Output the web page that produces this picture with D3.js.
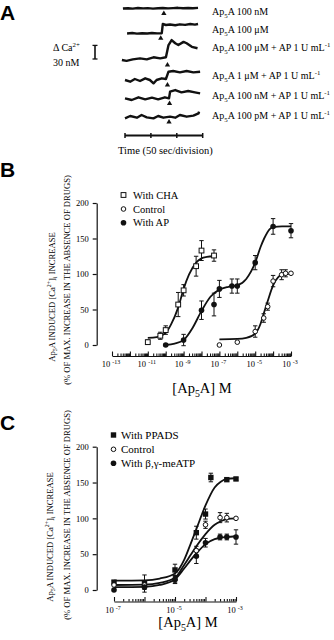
<!DOCTYPE html>
<html>
<head>
<meta charset="utf-8">
<script src="https://cdnjs.cloudflare.com/ajax/libs/d3/7.8.5/d3.min.js"></script>
<style>
body { margin: 0; background: #fff; }
svg { display: block; font-family: "Liberation Serif", "Times New Roman", serif; }
</style>
</head>
<body>
<svg class="fig"></svg>
<script>
// ---------- panel A : Ca traces, [time (s), delta Ca (nM)]
const trace1 = [[-4,0],[6,0.7],[15,-0.2],[25,1.1],[35,0.2],[44,0.9],[54,-0.2],[64,0.7],[73,1.1],[83,0.2],[93,0.9],[102,1.5],[112,0.4],[122,1.1],[131,0.7],[141,1.3]]
const trace2 = [[4,-0.4],[14,0.7],[23,-0.7],[33,0.2],[43,-0.4],[52,0.7],[62,-0.2],[71,0.2],[73,20.5],[79,18.3],[87,19.4],[97,17.8],[106,19.8],[116,18.7],[126,20.5],[135,19.1],[141,20.5]]
const trace3 = [[-6,0],[3,-2],[15,1.5],[29,3.5],[42,1.5],[55,6],[68,3.5],[79,6],[84,33],[90,44],[97,37],[103,33],[113,40],[119,37],[129,29],[140,26]]
const trace4 = [[0,0],[10,-3.7],[19,2.2],[29,-2.2],[39,3.7],[48,0],[55,-7.3],[61,0],[71,3.7],[79,2.2],[84,18.3],[93,19.8],[106,16.9],[119,19.8],[132,16.9],[145,18.3]]
const trace5 = [[0,0.4],[13,-3.3],[26,2.6],[39,-1.8],[52,1.8],[64,-1.8],[77,2.6],[85,0.4],[87,15],[97,18.7],[109,13.6],[122,16.5],[135,13.6],[145,11.4]]
const trace6 = [[0,-2.9],[10,2.2],[23,-1.5],[32,4.4],[42,-0.7],[55,-2.9],[64,2.2],[74,-1.5],[87,0.7],[97,-1.5],[106,4.4],[119,0.7],[132,2.9],[142,8.1],[143,11.7]]
const traces = [trace1, trace2, trace3, trace4, trace5, trace6]
const stimTimes = [75, 69, 82, 82, 86, 85]
const traceLabels = [
    ["Ap", ["5", "sub"], "A 100 nM"],
    ["Ap", ["5", "sub"], "A 100 \u03bcM"],
    ["Ap", ["5", "sub"], "A 100 \u03bcM + AP 1 U mL", ["-1", "sup"]],
    ["Ap", ["5", "sub"], "A 1 \u03bcM + AP 1 U mL", ["-1", "sup"]],
    ["Ap", ["5", "sub"], "A 100 nM + AP 1 U mL", ["-1", "sup"]],
    ["Ap", ["5", "sub"], "A 100 pM + AP 1 U mL", ["-1", "sup"]]
]
const timeTicks = [0, 50, 100, 150]
const scaleBarNM = 30

// ---------- panel B : concentration (M), mean, s.e.m.
const chaConc = [1e-11, 5e-11, 1e-10, 5e-10, 1e-9, 5e-9, 1e-8, 5e-8]
const chaMean = [4, 13, 21, 57, 77, 111, 133, 126]
const chaErr = [3, 5, 6, 17, 8, 14, 14, 8]
const apConc = [1e-10, 1e-9, 1e-8, 5e-8, 1e-7, 5e-7, 1e-6, 1e-5, 1e-4, 1e-3]
const apMean = [0, 7, 49, 57, 79, 83, 83, 116, 167, 161]
const apErr = [1, 8, 13, 16, 12, 10, 10, 10, 11, 10]
const ctrlBConc = [1e-7, 1e-6, 1e-5, 3e-5, 5e-5, 1e-4, 3e-4, 5e-4, 1e-3]
const ctrlBMean = [0, 4, 19, 38, 54, 90, 99, 101, 101]
const ctrlBErr = [0, 0, 8, 6, 5, 8, 7, 5, 0]
// fitted curves: [log10 conc, value]
const chaCurve = [[-11,10],[-10.5,11],[-10,17],[-9.7,29],[-9.3,53],[-9,79],[-8.7,99],[-8.3,116],[-8,122],[-7.7,124],[-7.3,125]]
const apCurve = [[-10,0],[-9.5,2],[-9,7],[-8.5,24],[-8,48],[-7.5,68],[-7,78],[-6.5,82],[-6,84],[-5.5,93],[-5,116],[-4.7,138],[-4.5,150],[-4.2,163],[-4,166],[-3.5,167],[-3,167]]
const ctrlBCurve = [[-7,8],[-6,8.5],[-5.5,10],[-5,16],[-4.7,30],[-4.5,46],[-4.3,62],[-4,84],[-3.7,96],[-3.5,99],[-3.3,100],[-3,101]]
const decadesB = [-13, -11, -9, -7, -5, -3]

// ---------- panel C
const ppadsConc = [1e-7, 1e-6, 1e-5, 5e-5, 1e-4, 1.5e-4, 5e-4, 1e-3]
const ppadsMean = [11, 9, 28, 80, 106, 157, 154, 155]
const ppadsErr = [2, 12, 8, 9, 7, 6, 2, 2]
const ctrlCConc = [1e-7, 1e-6, 1e-5, 5e-5, 1e-4, 3e-4, 5e-4, 1e-3]
const ctrlCMean = [7, 7, 14, 55, 91, 101, 101, 100]
const ctrlCErr = [0, 0, 5, 6, 5, 7, 6, 0]
const meatpConc = [1e-7, 1e-6, 1e-5, 5e-5, 1e-4, 3e-4, 5e-4, 1e-3]
const meatpMean = [0, 4, 15, 47, 66, 74, 74, 74]
const meatpErr = [0, 3, 5, 10, 6, 4, 4, 10]
const ppadsCurve = [[-7,13],[-6,13.5],[-5.5,16],[-5,23],[-4.7,42],[-4.5,63],[-4.3,85],[-4,118],[-3.7,143],[-3.5,151],[-3.3,155],[-3,156]]
const ctrlCCurve = [[-7,7],[-6,7.5],[-5.5,10],[-5,17],[-4.7,35],[-4.5,48],[-4.3,61],[-4,78],[-3.7,91],[-3.5,96],[-3.3,99],[-3,100]]
const meatpCurve = [[-7,4],[-6,4.5],[-5.5,7],[-5,15],[-4.7,30],[-4.5,41],[-4.3,51],[-4,64],[-3.7,71],[-3.5,73],[-3.3,74],[-3,75]]
const decadesC = [-7, -5, -3]
const yTicks = [0, 50, 100, 150, 200]

// ---------------------------------------------------------------
const svg = d3.select('.fig').attr('width', 334).attr('height', 640)
svg.append('rect').attr('width', 334).attr('height', 640).attr('fill', '#fff')

// text with sub/superscripts
function rich(t, parts, fs) {
    let shift = 0
    parts.forEach(p => {
        let txt = typeof p === 'string' ? p : p[0]
        let mode = typeof p === 'string' ? null : p[1]
        let target = mode === 'sub' ? fs * 0.3 : mode === 'sup' ? -fs * 0.4 : 0
        t.append('tspan')
            .attr('dy', target - shift)
            .style('font-size', (mode ? fs * 0.68 : fs) + 'px')
            .text(txt)
        shift = target
    })
    return t
}

function panelLetter(txt, y) {
    svg.append('text').attr('x', 0).attr('y', y)
        .style('font-family', '"Liberation Sans", Arial, sans-serif')
        .style('font-weight', 'bold').style('font-size', '21px')
        .text(txt)
}

// ---------- A
panelLetter('A', 19.5)
const rowBase = [8.5, 33.3, 60, 80, 98.5, 117]
const labelY = [14.5, 33, 50.5, 79, 98.5, 118.5]
const tScale = d3.scaleLinear().domain([0, 150]).range([125, 202.7])

traces.forEach((tr, i) => {
    let y = d3.scaleLinear().domain([0, scaleBarNM]).range([rowBase[i], rowBase[i] - 13.6])
    let line = d3.line().x(d => tScale(d[0])).y(d => y(d[1])).curve(d3.curveLinear)
    svg.append('path')
        .attr('d', line(tr))
        .attr('fill', 'none').attr('stroke', '#111').attr('stroke-width', 2.4)
        .attr('stroke-linejoin', 'round')
    svg.append('path')
        .attr('d', d3.symbol(d3.symbolTriangle).size(12)())
        .attr('transform', `translate(${tScale(stimTimes[i])},${rowBase[i] + 5})`)
        .attr('fill', '#111')
    let t = svg.append('text').attr('x', 212).attr('y', labelY[i])
    rich(t, traceLabels[i], 10)
})

// time axis
svg.append('line')
    .attr('x1', tScale(0)).attr('x2', tScale(150)).attr('y1', 135.5).attr('y2', 135.5)
    .attr('stroke', '#111').attr('stroke-width', 2)
svg.selectAll('.tt').data(timeTicks).enter().append('line')
    .attr('x1', d => tScale(d)).attr('x2', d => tScale(d))
    .attr('y1', 133).attr('y2', 138)
    .attr('stroke', '#111').attr('stroke-width', 1.5)
svg.append('text').attr('x', 118).attr('y', 153.5).style('font-size', '10.5px')
    .text('Time (50 sec/division)')

// calibration bar
const calY = d3.scaleLinear().domain([0, scaleBarNM]).range([59, 45.4])
svg.append('line').attr('x1', 95).attr('x2', 95).attr('y1', calY(0)).attr('y2', calY(scaleBarNM))
    .attr('stroke', '#111').attr('stroke-width', 1.6)
svg.selectAll('.cap').data([0, scaleBarNM]).enter().append('line')
    .attr('x1', 92.5).attr('x2', 97.5).attr('y1', d => calY(d)).attr('y2', d => calY(d))
    .attr('stroke', '#111').attr('stroke-width', 1.3)
rich(svg.append('text').attr('x', 53).attr('y', 50.5), ["\u0394 Ca", ["2+", "sup"]], 10)
svg.append('text').attr('x', 53).attr('y', 65.5).style('font-size', '10px').text('30 nM')

// ---------- dose response panels
function marker(g, type, cx, cy) {
    if (type === 'openSquare') {
        g.append('rect').attr('x', cx - 2.4).attr('y', cy - 2.4).attr('width', 4.8).attr('height', 4.8)
            .attr('fill', '#fff').attr('stroke', '#111').attr('stroke-width', 1)
    } else if (type === 'fillSquare') {
        g.append('rect').attr('x', cx - 2.7).attr('y', cy - 2.7).attr('width', 5.4).attr('height', 5.4)
            .attr('fill', '#111')
    } else if (type === 'openCircle') {
        g.append('circle').attr('cx', cx).attr('cy', cy).attr('r', 2.3)
            .attr('fill', '#fff').attr('stroke', '#111').attr('stroke-width', 1)
    } else {
        g.append('circle').attr('cx', cx).attr('cy', cy).attr('r', 2.8).attr('fill', '#111')
    }
}

function dosePanel(p) {
    let g = svg.append('g')

    // y axis
    g.append('g').attr('transform', `translate(${p.axisX},0)`)
        .call(d3.axisLeft(p.y).tickValues(yTicks).tickSize(4).tickSizeOuter(0).tickPadding(4))
        .attr('font-family', '"Liberation Serif", serif').attr('font-size', 8.5)
        .call(a => a.selectAll('path,line').attr('stroke', '#111').attr('stroke-width', 1.2))

    // x axis, log ticks pointing up
    let lo = Math.round(Math.log10(p.x.domain()[0])), hi = Math.round(Math.log10(p.x.domain()[1]))
    let tv = []
    for (let e = lo; e <= hi; e++) {
        for (let k = 1; k <= 9; k++) {
            if (e === hi && k > 1) break
            tv.push(k * Math.pow(10, e))
        }
    }
    let xa = g.append('g').attr('transform', `translate(0,${p.axisY})`)
        .call(d3.axisBottom(p.x).tickValues(tv).tickSize(-2.5).tickSizeOuter(0).tickFormat(''))
    xa.selectAll('path,line').attr('stroke', '#111').attr('stroke-width', 1.1)
    xa.selectAll('.tick line').filter(d => Math.abs(Math.log10(d) - Math.round(Math.log10(d))) < 1e-6)
        .attr('y2', -4.5)
    p.decades.forEach(e => {
        let t = g.append('text').attr('x', p.x(Math.pow(10, e)) - 1).attr('y', p.axisY + 11)
            .attr('text-anchor', 'middle')
        t.append('tspan').style('font-size', '8.5px').text('10 ')
        t.append('tspan').attr('dy', -3).style('font-size', '6px').text(String(e))
    })

    // fitted curves
    let line = d3.line().x(d => p.x(Math.pow(10, d[0]))).y(d => p.y(d[1])).curve(d3.curveMonotoneX)
    p.curves.forEach(c => {
        g.append('path').attr('d', line(c)).attr('fill', 'none')
            .attr('stroke', '#111').attr('stroke-width', 1.8)
    })

    // error bars + points
    p.series.forEach(s => {
        s.conc.forEach((c, i) => {
            if (!s.err[i]) return
            let cx = p.x(c)
            g.append('line').attr('x1', cx).attr('x2', cx)
                .attr('y1', p.y(s.mean[i] - s.err[i])).attr('y2', p.y(s.mean[i] + s.err[i]))
                .attr('stroke', '#111').attr('stroke-width', 1)
            ;[s.mean[i] - s.err[i], s.mean[i] + s.err[i]].forEach(v => {
                g.append('line').attr('x1', cx - 2.2).attr('x2', cx + 2.2)
                    .attr('y1', p.y(v)).attr('y2', p.y(v))
                    .attr('stroke', '#111').attr('stroke-width', 1)
            })
        })
    })
    p.series.forEach(s => {
        s.conc.forEach((c, i) => marker(g, s.marker, p.x(c), p.y(s.mean[i])))
    })

    // legend
    p.series.forEach((s, i) => {
        let ly = p.legendY[i]
        marker(g, s.marker, p.legendX, ly)
        g.append('text').attr('x', p.legendX + p.legendGap).attr('y', ly).attr('dy', '0.35em')
            .style('font-size', p.legendSize + 'px').text(s.name)
    })

    // axis titles
    rich(g.append('text').attr('x', p.xTitle[0]).attr('y', p.xTitle[1]).attr('text-anchor', 'middle'),
        ["[Ap", ["5", "sub"], "A] M"], 14.5)
    rich(g.append('text').attr('text-anchor', 'middle')
        .attr('transform', `translate(${p.yTitle1[0]},${p.yTitle1[1]}) rotate(-90)`),
        ["Ap", ["5", "sub"], "A INDUCED [Ca", ["2+", "sup"], "]", ["i", "sub"], " INCREASE"], 8.6)
    g.append('text').attr('text-anchor', 'middle')
        .attr('transform', `translate(${p.yTitle2[0]},${p.yTitle2[1]}) rotate(-90)`)
        .style('font-size', '8.6px')
        .text('(% OF MAX. INCREASE IN THE ABSENCE OF DRUGS)')
}

// ---------- B
panelLetter('B', 177)
dosePanel({
    x: d3.scaleLog().domain([1e-13, 1e-3]).range([112, 291]),
    y: d3.scaleLinear().domain([0, 200]).range([345, 203]),
    axisX: 96.7, axisY: 356, decades: decadesB,
    curves: [chaCurve, apCurve, ctrlBCurve],
    series: [
        { name: 'With CHA', marker: 'openSquare', conc: chaConc, mean: chaMean, err: chaErr },
        { name: 'Control', marker: 'openCircle', conc: ctrlBConc, mean: ctrlBMean, err: ctrlBErr },
        { name: 'With AP', marker: 'fillCircle', conc: apConc, mean: apMean, err: apErr }
    ],
    legendX: 123.5, legendGap: 9.5, legendY: [195, 209, 222.7], legendSize: 10.5,
    xTitle: [202, 393], yTitle1: [54.5, 297], yTitle2: [69.5, 280]
})

// ---------- C
panelLetter('C', 430)
dosePanel({
    x: d3.scaleLog().domain([1e-7, 1e-3]).range([114, 236]),
    y: d3.scaleLinear().domain([0, 200]).range([590, 446.7]),
    axisX: 96.7, axisY: 601.5, decades: decadesC,
    curves: [ppadsCurve, ctrlCCurve, meatpCurve],
    series: [
        { name: 'With PPADS', marker: 'fillSquare', conc: ppadsConc, mean: ppadsMean, err: ppadsErr },
        { name: 'Control', marker: 'openCircle', conc: ctrlCConc, mean: ctrlCMean, err: ctrlCErr },
        { name: 'With \u03b2,\u03b3-meATP', marker: 'fillCircle', conc: meatpConc, mean: meatpMean, err: meatpErr }
    ],
    legendX: 113.5, legendGap: 7.5, legendY: [435, 449.3, 463.3], legendSize: 11,
    xTitle: [188, 627], yTitle1: [52.5, 537], yTitle2: [69.5, 515]
})
</script>
</body>
</html>
